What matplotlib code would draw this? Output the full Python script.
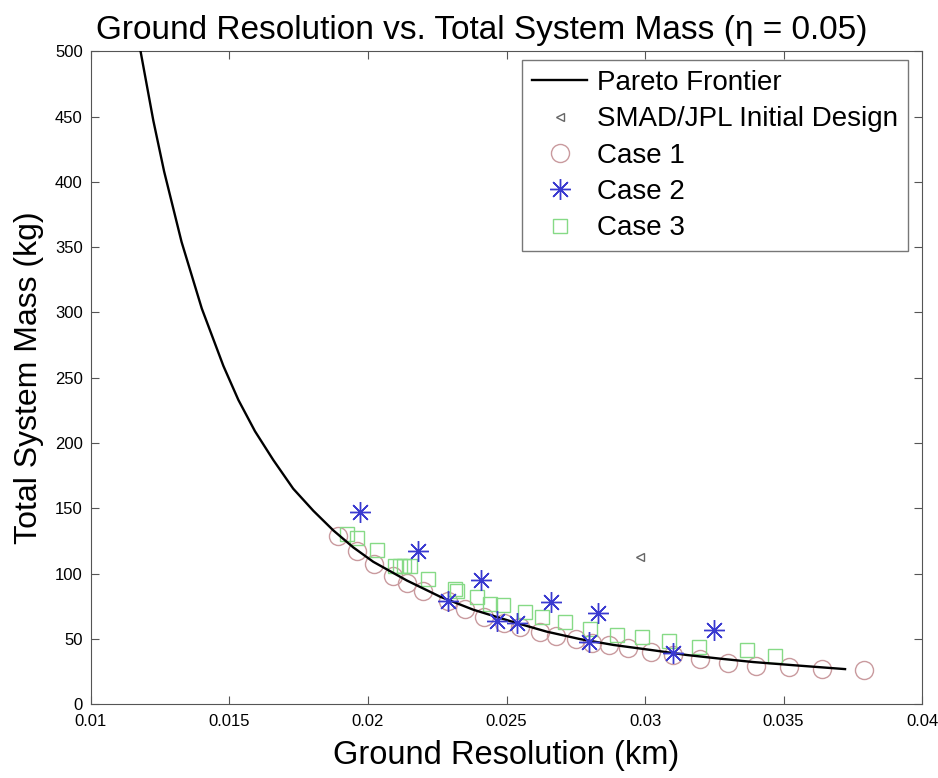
import matplotlib
matplotlib.use('Agg')
import matplotlib.pyplot as plt
import numpy as np

# Pareto frontier
pareto_x = [0.01179, 0.01225, 0.01264, 0.01327, 0.01400, 0.01478, 0.01532, 0.01592,
            0.01658, 0.01730, 0.01803, 0.01875, 0.01947, 0.02019, 0.02140, 0.02260,
            0.02380, 0.02525, 0.02645, 0.02765, 0.02886, 0.03030, 0.03151, 0.03271,
            0.03391, 0.03535, 0.03722]
pareto_y = [500, 447, 408, 354, 303, 259, 233, 209, 187, 165, 148, 133, 120, 109,
            94.7, 82.3, 72.3, 62.8, 55.5, 49.8, 45.3, 41.2, 37.6, 34.8, 32.2, 29.8, 26.8]

smad_x = [0.02982]
smad_y = [112.6]

case1_x = [0.0189, 0.0196, 0.0202, 0.0209, 0.0214, 0.0220, 0.0229, 0.0235, 0.0242,
           0.0249, 0.0255, 0.0262, 0.0268, 0.0275, 0.0281, 0.0287, 0.0294, 0.0302,
           0.0310, 0.0320, 0.0330, 0.0340, 0.0352, 0.0364, 0.0379]
case1_y = [129, 117, 107, 98, 93, 87, 79, 73, 67, 62, 59, 55, 52, 50, 47, 45, 42.6, 40,
           37.5, 34.4, 31.5, 29.5, 28.5, 27, 26]

case2_x = [0.01971, 0.02182, 0.0229, 0.02408, 0.02465, 0.02537, 0.02661, 0.02798,
           0.02831, 0.03102, 0.03249]
case2_y = [147.5, 117, 79, 95, 64, 62, 78, 47.6, 70, 38.8, 56.6]

case3_x = [0.01923, 0.01959, 0.02031, 0.02097, 0.02115, 0.02130, 0.02150, 0.02218,
           0.02314, 0.02320, 0.02392, 0.0244, 0.02489, 0.02567, 0.02627, 0.02711,
           0.02801, 0.02898, 0.02988, 0.03088, 0.03196, 0.03367, 0.03470]
case3_y = [130.5, 127, 117.7, 106, 106, 106, 106, 96, 88.5, 87, 82, 77, 75.8, 70.6,
           66.8, 63, 57.9, 52.8, 51.5, 48.4, 43.8, 41.3, 37]

x_ticks = [0.01, 0.015, 0.02, 0.025, 0.03, 0.035, 0.04]
x_ticklabels = ['0.01', '0.015', '0.02', '0.025', '0.03', '0.035', '0.04']

plt.rcParams['font.family'] = ['Liberation Sans', 'DejaVu Sans']

fig = plt.figure(figsize=(9.38, 7.78), dpi=100)
ax = fig.add_axes([0.097, 0.095, 0.886, 0.839])

ax.plot(pareto_x, pareto_y, color='black', lw=1.7, label='Pareto Frontier', zorder=3)
ax.plot(smad_x, smad_y, ls='none', marker='<', ms=6, mfc='none', mec='#666666',
        mew=1.0, label='SMAD/JPL Initial Design')
ax.plot(case1_x, case1_y, ls='none', marker='o', ms=13, mfc='none', mec='#c99a9e',
        mew=1.0, label='Case 1')
ax.plot(case2_x, case2_y, ls='none', marker=(8, 2, 0), ms=15, mec='#3a3ad0',
        mew=1.0, label='Case 2', zorder=4)
ax.plot(case3_x, case3_y, ls='none', marker='s', ms=10, mfc='none', mec='#86da86',
        mew=1.0, label='Case 3')

ax.set_xlim(0.01, 0.04)
ax.set_ylim(0, 500)
ax.set_xticks(x_ticks)
ax.set_xticklabels(x_ticklabels)
ax.set_yticks(np.arange(0, 501, 50))
ax.tick_params(direction='in', top=True, right=True, labelsize=12, length=6,
               color='#555555')
ax.tick_params(axis='x', pad=7)
ax.tick_params(axis='y', pad=6)
for sp in ax.spines.values():
    sp.set_color('#555555')

ax.set_title('Ground Resolution vs. Total System Mass (\u03b7 = 0.05)', fontsize=24,
             pad=9, x=0.47)
ax.set_xlabel('Ground Resolution (km)', fontsize=23.5, labelpad=8)
ax.set_ylabel('Total System Mass (kg)', fontsize=23, labelpad=8)

leg = ax.legend(loc='upper right', bbox_to_anchor=(0.983, 0.986), borderaxespad=0,
                fontsize=20, frameon=True, fancybox=False, edgecolor='#555555',
                handlelength=2.0, handletextpad=0.35, borderpad=0.35, labelspacing=0.37)
leg.get_frame().set_linewidth(1.0)

fig.savefig('out.png', dpi=100)
